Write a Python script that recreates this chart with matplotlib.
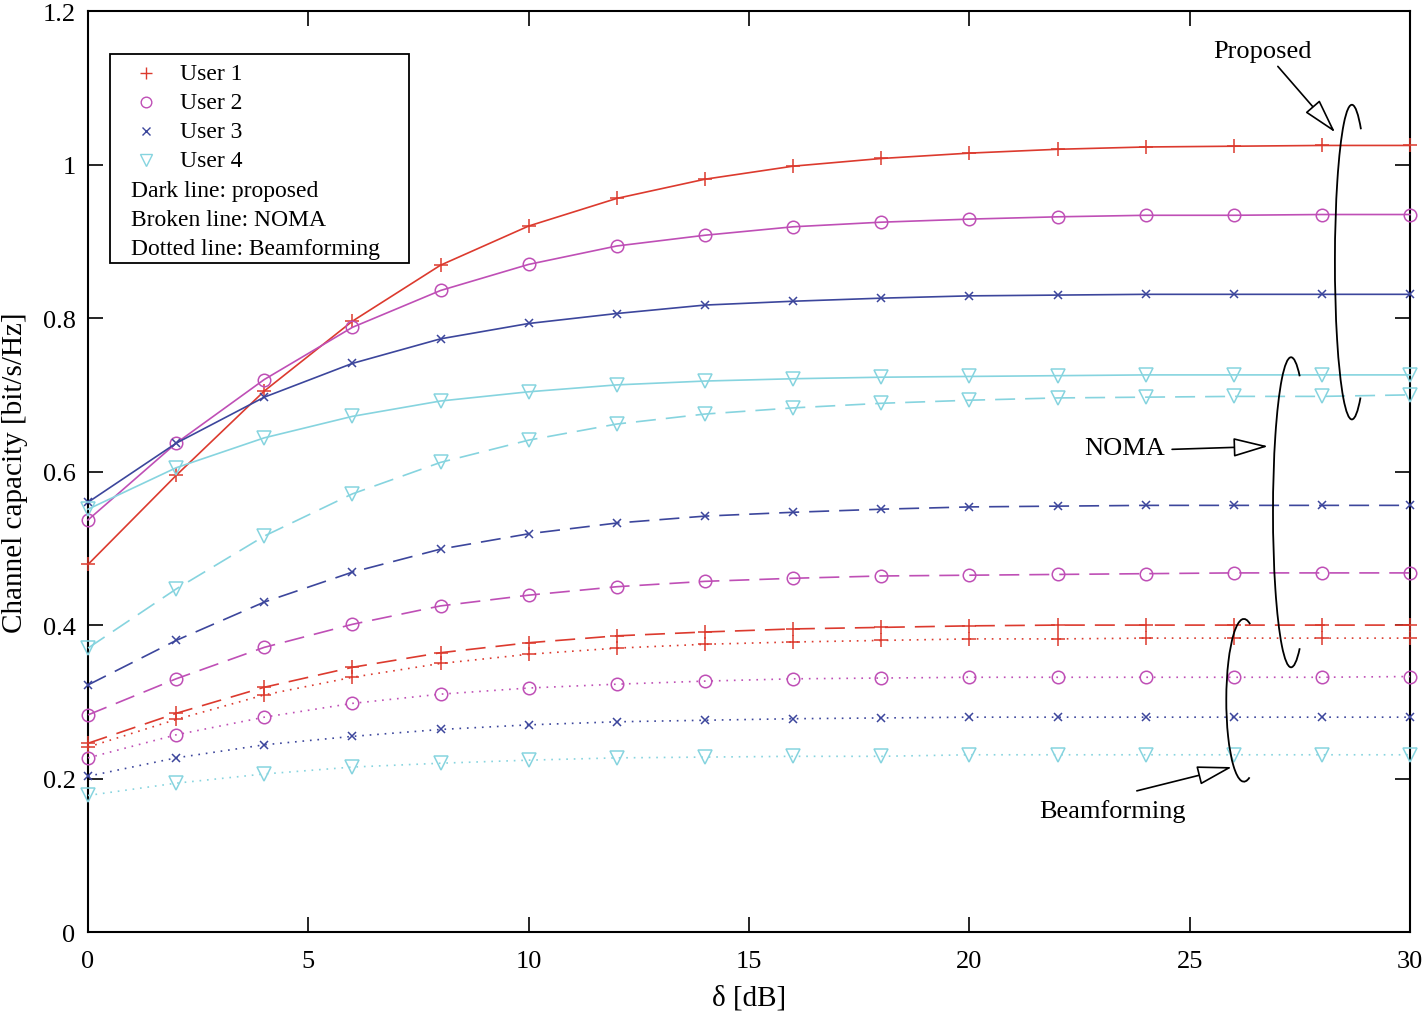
import matplotlib
matplotlib.use("Agg")
import matplotlib.pyplot as plt
from matplotlib.lines import Line2D
from matplotlib.patches import Arc, Rectangle

plt.rcParams['font.family'] = ['Liberation Serif', 'DejaVu Serif']
plt.rcParams['mathtext.fontset'] = 'stix'

delta = [0, 2, 4, 6, 8, 10, 12, 14, 16, 18, 20, 22, 24, 26, 28, 30]

prop_u1 = [0.479, 0.595, 0.705, 0.796, 0.869, 0.920, 0.956, 0.981, 0.998, 1.008, 1.015, 1.020, 1.023, 1.024, 1.025, 1.025]
prop_u2 = [0.537, 0.637, 0.720, 0.788, 0.836, 0.870, 0.894, 0.908, 0.919, 0.925, 0.929, 0.932, 0.934, 0.934, 0.935, 0.935]
prop_u3 = [0.560, 0.637, 0.697, 0.741, 0.773, 0.793, 0.806, 0.817, 0.822, 0.826, 0.829, 0.830, 0.831, 0.831, 0.831, 0.831]
prop_u4 = [0.551, 0.605, 0.644, 0.672, 0.692, 0.704, 0.713, 0.718, 0.721, 0.723, 0.724, 0.725, 0.726, 0.726, 0.726, 0.726]

noma_u1 = [0.246, 0.285, 0.319, 0.345, 0.364, 0.377, 0.386, 0.391, 0.395, 0.397, 0.399, 0.400, 0.400, 0.400, 0.400, 0.400]
noma_u2 = [0.283, 0.330, 0.371, 0.401, 0.425, 0.439, 0.450, 0.457, 0.461, 0.464, 0.465, 0.466, 0.467, 0.468, 0.468, 0.468]
noma_u3 = [0.322, 0.380, 0.430, 0.469, 0.499, 0.519, 0.533, 0.542, 0.547, 0.551, 0.554, 0.555, 0.556, 0.556, 0.556, 0.556]
noma_u4 = [0.370, 0.447, 0.516, 0.571, 0.612, 0.641, 0.662, 0.675, 0.683, 0.689, 0.693, 0.696, 0.697, 0.698, 0.698, 0.700]

bf_u1 = [0.241, 0.277, 0.309, 0.332, 0.350, 0.362, 0.370, 0.375, 0.378, 0.380, 0.382, 0.382, 0.383, 0.383, 0.383, 0.383]
bf_u2 = [0.227, 0.257, 0.280, 0.298, 0.310, 0.318, 0.323, 0.327, 0.330, 0.331, 0.332, 0.332, 0.332, 0.332, 0.332, 0.333]
bf_u3 = [0.203, 0.227, 0.244, 0.255, 0.264, 0.270, 0.274, 0.276, 0.278, 0.279, 0.280, 0.280, 0.280, 0.280, 0.280, 0.280]
bf_u4 = [0.178, 0.194, 0.206, 0.215, 0.220, 0.224, 0.227, 0.228, 0.229, 0.229, 0.231, 0.231, 0.231, 0.231, 0.231, 0.231]

users = ["User 1", "User 2", "User 3", "User 4"]
colors = ["#dc3a2e", "#bf4fb6", "#3c469c", "#86d4df"]
markers = ["+", "o", "x", "v"]
msizes = [10, 9, 6, 10]

fig = plt.figure(figsize=(14.24, 10.12), dpi=100)
ax = fig.add_axes([0.0618, 0.078, 0.9284, 0.910])

series = [
    ([prop_u1, prop_u2, prop_u3, prop_u4], '-'),
    ([noma_u1, noma_u2, noma_u3, noma_u4], (0, (12, 6))),
    ([bf_u1, bf_u2, bf_u3, bf_u4], (0, (1, 3.5))),
]
for data, ls in series:
    for i, y in enumerate(data):
        ax.plot(delta, y, linestyle=ls, color=colors[i], lw=1.2,
                marker=markers[i], markersize=msizes[i], markerfacecolor='none',
                markeredgecolor=colors[i], markeredgewidth=1.1, clip_on=False, zorder=3)

ax.set_xlim(0, 30)
ax.set_ylim(0, 1.2)
ax.set_xticks([0, 5, 10, 15, 20, 25, 30])
ax.set_yticks([0, 0.2, 0.4, 0.6, 0.8, 1.0, 1.2])
ax.set_yticklabels(["0", "0.2", "0.4", "0.6", "0.8", "1", "1.2"])
ax.tick_params(direction='in', top=True, right=True, length=11, width=1.2,
               labelsize=19, pad=13)
ax.tick_params(axis='y', pad=9)
for s in ax.spines.values():
    s.set_linewidth(1.5)
ax.set_xlabel("δ [dB]", fontsize=21, labelpad=9)
ax.set_ylabel("Channel capacity [bit/s/Hz]", fontsize=21, labelpad=10)

# Legend box
ax.add_patch(Rectangle((0.0166, 0.726), 0.2265, 0.227, transform=ax.transAxes,
                       fill=True, facecolor='white', edgecolor='black', lw=1.3, zorder=5))
rows = [0.9327, 0.9012, 0.8697, 0.8382, 0.8056, 0.7741, 0.7427]
for i in range(4):
    ax.add_line(Line2D([0.0439], [rows[i]], transform=ax.transAxes, marker=markers[i],
                       markersize=msizes[i] * 0.85, markerfacecolor='none',
                       markeredgecolor=colors[i], markeredgewidth=1.0, linestyle='none', zorder=6))
    ax.text(0.0696, rows[i], users[i], transform=ax.transAxes, fontsize=17,
            va='center', ha='left', zorder=6)
for j, t in enumerate(["Dark line: proposed", "Broken line: NOMA", "Dotted line: Beamforming"]):
    ax.text(0.0325, rows[4 + j], t, transform=ax.transAxes, fontsize=17,
            va='center', ha='left', zorder=6)

# Group loops
ax.add_patch(Arc((28.68, 0.873), 0.77, 0.410, theta1=40, theta2=318, lw=1.3, color='black', zorder=4))
ax.add_patch(Arc((27.30, 0.547), 0.82, 0.404, theta1=42, theta2=318, lw=1.3, color='black', zorder=4))
ax.add_patch(Arc((26.23, 0.302), 0.80, 0.212, theta1=35, theta2=322, lw=1.3, color='black', zorder=4))

arrow = dict(arrowstyle='-|>,head_length=1.1,head_width=0.3', facecolor='white',
             edgecolor='black', lw=1.2, shrinkA=0, shrinkB=0, mutation_scale=20)
ax.annotate('', xy=(28.30, 1.042), xytext=(27.00, 1.128), arrowprops=arrow, zorder=4)
ax.annotate('', xy=(26.78, 0.633), xytext=(24.60, 0.629), arrowprops=arrow, zorder=4)
ax.annotate('', xy=(25.96, 0.215), xytext=(23.80, 0.184), arrowprops=arrow, zorder=4)
ax.text(26.66, 1.148, "Proposed", fontsize=19, ha='center', va='center')
ax.text(24.45, 0.631, "NOMA", fontsize=19, ha='right', va='center')
ax.text(23.24, 0.159, "Beamforming", fontsize=19, ha='center', va='center')

fig.savefig("out.png", dpi=100)
